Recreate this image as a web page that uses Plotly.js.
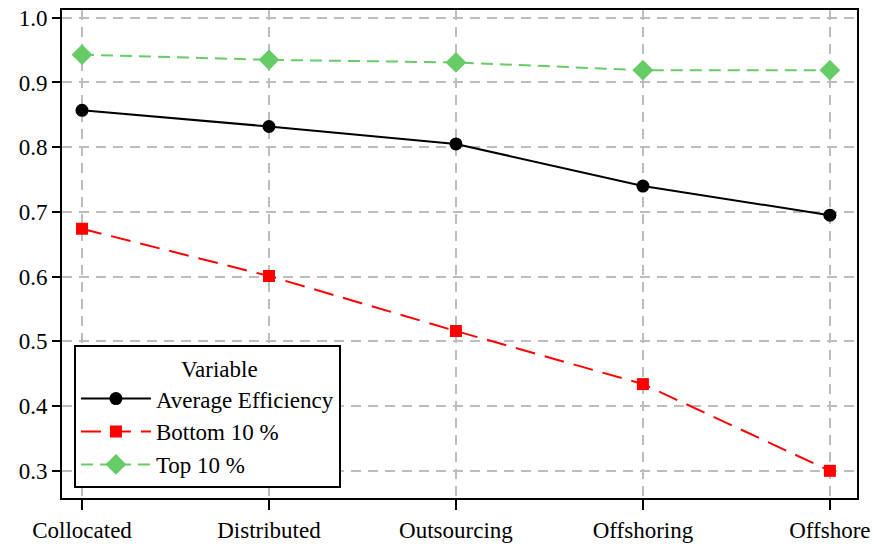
<!DOCTYPE html>
<html><head><meta charset="utf-8">
<script src="https://cdn.plot.ly/plotly-3.0.1.min.js"></script>
<style>html,body{margin:0;padding:0;background:#fff}#chart{width:878px;height:554px}</style>
</head><body><div id="chart"></div>
<script>
const categories = ["Collocated", "Distributed", "Outsourcing", "Offshoring", "Offshore"];
const averageEfficiency = [0.857, 0.832, 0.805, 0.740, 0.695];
const bottom10 = [0.674, 0.601, 0.516, 0.434, 0.300];
const top10 = [0.943, 0.935, 0.931, 0.919, 0.919];
const yTicks = [0.3, 0.4, 0.5, 0.6, 0.7, 0.8, 0.9, 1.0];

const xIdx = categories.map((c, i) => i);
const font = "Liberation Serif, Times New Roman, serif";
const pad = "\u00a0".repeat(13);

const traces = [
  {x: xIdx, y: averageEfficiency, name: "Average Efficiency", mode: "lines+markers",
   line: {color: "#000000", width: 2}, marker: {symbol: "circle", size: 13, color: "#000000"}},
  {x: xIdx, y: bottom10, name: "Bottom 10 %", mode: "lines+markers",
   line: {color: "#ff0000", width: 2, dash: "20px,10px"}, marker: {symbol: "square", size: 12, color: "#ff0000"}},
  {x: xIdx, y: top10, name: "Top 10 %", mode: "lines+markers",
   line: {color: "#66cc66", width: 2, dash: "12px,7px"}, marker: {symbol: "diamond", size: 16, color: "#66cc66"}}
];

const layout = {
  width: 878, height: 554,
  margin: {l: 62, r: 21, t: 10, b: 56},
  paper_bgcolor: "#ffffff", plot_bgcolor: "#ffffff",
  font: {family: font, size: 22, color: "#000"},
  showlegend: true,
  xaxis: {
    range: [-0.107, 4.145], tickvals: xIdx, ticktext: categories,
    showline: true, mirror: true, linecolor: "#000", linewidth: 2,
    ticks: "outside", ticklen: 10, tickwidth: 2, tickcolor: "#000",
    showgrid: true, gridcolor: "#bdbdbd", gridwidth: 2, griddash: "10px,7px",
    zeroline: false, tickfont: {family: font, size: 23, color: "#000"}
  },
  yaxis: {
    range: [0.258, 1.012], tickvals: yTicks, tickformat: ".1f",
    showline: true, mirror: true, linecolor: "#000", linewidth: 2,
    ticks: "outside", ticklen: 8, tickwidth: 2, tickcolor: "#000",
    showgrid: true, gridcolor: "#bdbdbd", gridwidth: 2, griddash: "10px,7px",
    zeroline: false, tickfont: {family: font, size: 23, color: "#000"}
  },
  legend: {
    x: 0.015, y: 0.02, xanchor: "left", yanchor: "bottom",
    bgcolor: "#ffffff", bordercolor: "#000", borderwidth: 2,
    font: {family: font, size: 23, color: "#000"},
    itemwidth: 70, tracegroupgap: 0,
    title: {text: "                  Variable" + pad, side: "top", font: {family: font, size: 23, color: "#000"}}
  }
};

Plotly.newPlot("chart", traces, layout, {displayModeBar: false, staticPlot: true});
</script>
</body></html>
